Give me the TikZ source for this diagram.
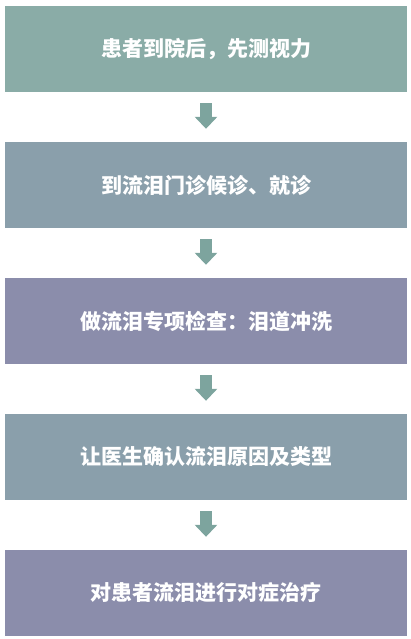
\documentclass[tikz,border=0pt]{standalone}
\usepackage{fontspec}
\setmainfont{Noto Sans CJK SC}
\usetikzlibrary{arrows.meta}
\definecolor{boxteal}{HTML}{8AACA7}
\definecolor{boxblue}{HTML}{8A9FAB}
\definecolor{boxpurple}{HTML}{8B8DAB}
\definecolor{arrowteal}{HTML}{7DA49E}
\begin{document}
\begin{tikzpicture}[x=1pt,y=-1pt,
    stepbox/.style={minimum width=402pt,minimum height=86pt,inner sep=0pt,
        text=white,font=\bfseries\fontsize{21pt}{25pt}\selectfont},
    flow/.style={arrowteal,line width=12pt,-{Triangle[length=12pt,width=22pt]},
        shorten <=11pt,shorten >=13pt}]
        \useasboundingbox (0,0) rectangle (410,639);
        \node[stepbox,fill=boxteal] (A) at (206,49) {患者到院后，先测视力};
        \node[stepbox,fill=boxblue] (B) at (206,185) {到流泪门诊候诊、就诊};
        \node[stepbox,fill=boxpurple] (C) at (206,321) {做流泪专项检查：泪道冲洗};
        \node[stepbox,fill=boxblue] (D) at (206,457) {让医生确认流泪原因及类型};
        \node[stepbox,fill=boxpurple] (E) at (206,593) {对患者流泪进行对症治疗};
        \draw[flow] (A.south) -- (B.north);
        \draw[flow] (B.south) -- (C.north);
        \draw[flow] (C.south) -- (D.north);
        \draw[flow] (D.south) -- (E.north);
    \end{tikzpicture}
\end{document}
